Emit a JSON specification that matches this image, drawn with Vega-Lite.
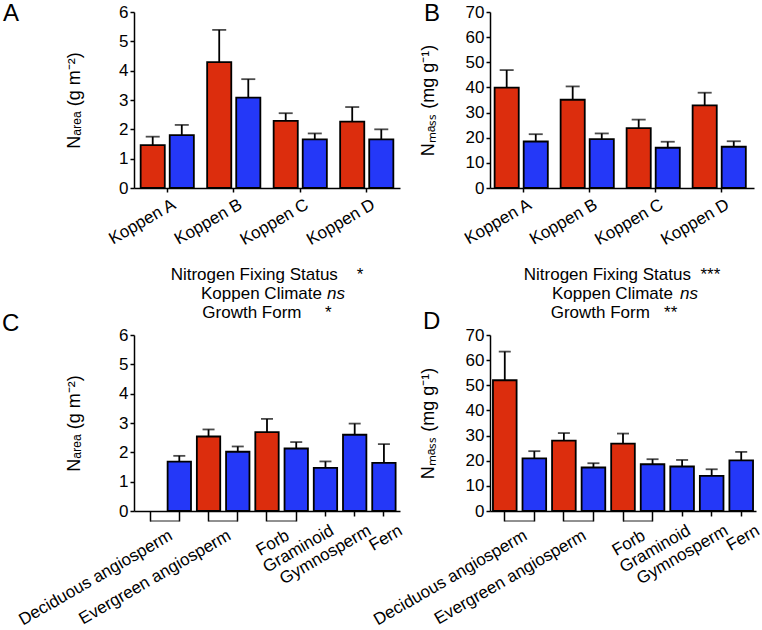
{
  "$schema": "https://vega.github.io/schema/vega-lite/v6.json",
  "background": "white",
  "padding": {"left": 2, "top": 1, "right": 0, "bottom": 0},
  "datasets": {
    "narea_koppen": [
      {"zone": "Koppen A", "status": "N-fixer", "mean": 1.46, "upper": 1.75},
      {"zone": "Koppen A", "status": "Non-fixer", "mean": 1.80, "upper": 2.15},
      {"zone": "Koppen B", "status": "N-fixer", "mean": 4.29, "upper": 5.39},
      {"zone": "Koppen B", "status": "Non-fixer", "mean": 3.08, "upper": 3.71},
      {"zone": "Koppen C", "status": "N-fixer", "mean": 2.29, "upper": 2.55},
      {"zone": "Koppen C", "status": "Non-fixer", "mean": 1.66, "upper": 1.86},
      {"zone": "Koppen D", "status": "N-fixer", "mean": 2.26, "upper": 2.76},
      {"zone": "Koppen D", "status": "Non-fixer", "mean": 1.66, "upper": 2.00}
    ],
    "nmass_koppen": [
      {"zone": "Koppen A", "status": "N-fixer", "mean": 39.9, "upper": 46.9},
      {"zone": "Koppen A", "status": "Non-fixer", "mean": 18.5, "upper": 21.4},
      {"zone": "Koppen B", "status": "N-fixer", "mean": 35.1, "upper": 40.4},
      {"zone": "Koppen B", "status": "Non-fixer", "mean": 19.4, "upper": 21.7},
      {"zone": "Koppen C", "status": "N-fixer", "mean": 23.8, "upper": 27.2},
      {"zone": "Koppen C", "status": "Non-fixer", "mean": 16.0, "upper": 18.4},
      {"zone": "Koppen D", "status": "N-fixer", "mean": 32.9, "upper": 37.9},
      {"zone": "Koppen D", "status": "Non-fixer", "mean": 16.4, "upper": 18.6}
    ],
    "narea_form": [
      {"slot": "Deciduous angiosperm|Non-fixer", "status": "Non-fixer", "mean": 1.68, "upper": 1.88},
      {"slot": "Evergreen angiosperm|N-fixer", "status": "N-fixer", "mean": 2.54, "upper": 2.78},
      {"slot": "Evergreen angiosperm|Non-fixer", "status": "Non-fixer", "mean": 2.02, "upper": 2.20},
      {"slot": "Forb|N-fixer", "status": "N-fixer", "mean": 2.69, "upper": 3.14},
      {"slot": "Forb|Non-fixer", "status": "Non-fixer", "mean": 2.13, "upper": 2.35},
      {"slot": "Graminoid|Non-fixer", "status": "Non-fixer", "mean": 1.47, "upper": 1.69},
      {"slot": "Gymnosperm|Non-fixer", "status": "Non-fixer", "mean": 2.60, "upper": 2.98},
      {"slot": "Fern|Non-fixer", "status": "Non-fixer", "mean": 1.64, "upper": 2.28}
    ],
    "nmass_form": [
      {"slot": "Deciduous angiosperm|N-fixer", "status": "N-fixer", "mean": 52.0, "upper": 63.4},
      {"slot": "Deciduous angiosperm|Non-fixer", "status": "Non-fixer", "mean": 20.9, "upper": 23.8},
      {"slot": "Evergreen angiosperm|N-fixer", "status": "N-fixer", "mean": 28.0, "upper": 31.0},
      {"slot": "Evergreen angiosperm|Non-fixer", "status": "Non-fixer", "mean": 17.3, "upper": 19.0},
      {"slot": "Forb|N-fixer", "status": "N-fixer", "mean": 26.8, "upper": 30.8},
      {"slot": "Forb|Non-fixer", "status": "Non-fixer", "mean": 18.6, "upper": 20.6},
      {"slot": "Graminoid|Non-fixer", "status": "Non-fixer", "mean": 17.7, "upper": 20.3},
      {"slot": "Gymnosperm|Non-fixer", "status": "Non-fixer", "mean": 14.0, "upper": 16.6},
      {"slot": "Fern|Non-fixer", "status": "Non-fixer", "mean": 20.1, "upper": 23.5}
    ],
    "brackets": [
      {"from": "Deciduous angiosperm|N-fixer", "to": "Deciduous angiosperm|Non-fixer"},
      {"from": "Evergreen angiosperm|N-fixer", "to": "Evergreen angiosperm|Non-fixer"},
      {"from": "Forb|N-fixer", "to": "Forb|Non-fixer"}
    ],
    "stats_left": [
      {"line": 1, "text": "Nitrogen Fixing Status\u00a0\u00a0\u00a0\u00a0*"},
      {"line": 2, "text": "Koppen Climate", "sig": "ns"},
      {"line": 3, "text": "Growth Form\u00a0\u00a0\u00a0\u00a0\u00a0*"}
    ],
    "stats_right": [
      {"line": 1, "text": "Nitrogen Fixing Status\u00a0\u00a0***"},
      {"line": 2, "text": "Koppen Climate", "sig": "ns"},
      {"line": 3, "text": "Growth Form\u00a0\u00a0\u00a0**"}
    ]
  },
  "concat": [
    {
      "width": 266, "height": 176,
      "title": {"text": "A", "anchor": "start", "frame": "group", "dx": -131, "dy": 41.5, "offset": 0, "baseline": "alphabetic", "fontSize": 24, "fontWeight": "normal", "color": "black"},
      "data": {"name": "narea_koppen"},
      "encoding": {
        "x": {"field": "zone", "type": "nominal", "scale": {"paddingInner": 0.2, "paddingOuter": 0.1},
              "axis": {"title": null, "labelAngle": -30, "labelAlign": "right", "labelBaseline": "top", "tickSize": 4, "labelPadding": 4, "labelOffset": 3}},
        "xOffset": {"field": "status", "type": "nominal", "sort": ["N-fixer", "Non-fixer"], "scale": {"paddingInner": 0.17}}
      },
      "layer": [
        {"mark": {"type": "bar", "stroke": "black", "strokeWidth": 1.8},
         "encoding": {
           "y": {"field": "mean", "type": "quantitative", "stack": null, "scale": {"domain": [0, 6], "nice": false},
                 "axis": {"title": "N\u2090\u1d63\u2091\u2090 (g m\u207b\u00b2)", "values": [0, 1, 2, 3, 4, 5, 6], "labelOverlap": false, "tickSize": 4, "labelPadding": 2, "titlePadding": 35}},
           "color": {"field": "status", "type": "nominal", "scale": {"domain": ["N-fixer", "Non-fixer"], "range": ["#dc2d0d", "#2438f8"]}, "legend": null}
         }},
        {"mark": {"type": "rule", "strokeWidth": 1.8, "color": "black"},
         "encoding": {"y": {"field": "mean", "type": "quantitative", "axis": null}, "y2": {"field": "upper"}}},
        {"mark": {"type": "tick", "thickness": 1.8, "size": 14, "color": "black"},
         "encoding": {"y": {"field": "upper", "type": "quantitative", "axis": null}}}
      ],
      "resolve": {"axis": {"y": "independent"}}
    },
    {
      "width": 264, "height": 176,
      "title": {"text": "B", "anchor": "start", "frame": "group", "dx": -66, "dy": 41.5, "offset": 0, "baseline": "alphabetic", "fontSize": 24, "fontWeight": "normal", "color": "black"},
      "data": {"name": "nmass_koppen"},
      "encoding": {
        "x": {"field": "zone", "type": "nominal", "scale": {"paddingInner": 0.14, "paddingOuter": 0.07},
              "axis": {"title": null, "labelAngle": -30, "labelAlign": "right", "labelBaseline": "top", "tickSize": 4, "labelPadding": 4, "labelOffset": 3}},
        "xOffset": {"field": "status", "type": "nominal", "sort": ["N-fixer", "Non-fixer"], "scale": {"paddingInner": 0.07}}
      },
      "layer": [
        {"mark": {"type": "bar", "stroke": "black", "strokeWidth": 1.8},
         "encoding": {
           "y": {"field": "mean", "type": "quantitative", "stack": null, "scale": {"domain": [0, 70], "nice": false},
                 "axis": {"title": "N\u2098\u2090\u209b\u209b (mg g\u207b\u00b9)", "values": [0, 10, 20, 30, 40, 50, 60, 70], "labelOverlap": false, "tickSize": 4, "labelPadding": 2, "titlePadding": 28}},
           "color": {"field": "status", "type": "nominal", "scale": {"domain": ["N-fixer", "Non-fixer"], "range": ["#dc2d0d", "#2438f8"]}, "legend": null}
         }},
        {"mark": {"type": "rule", "strokeWidth": 1.8, "color": "black"},
         "encoding": {"y": {"field": "mean", "type": "quantitative", "axis": null}, "y2": {"field": "upper"}}},
        {"mark": {"type": "tick", "thickness": 1.8, "size": 14, "color": "black"},
         "encoding": {"y": {"field": "upper", "type": "quantitative", "axis": null}}}
      ],
      "resolve": {"axis": {"y": "independent"}}
    },
    {
      "width": 266, "height": 120,
      "data": {"name": "stats_left"},
      "encoding": {"y": {"field": "line", "type": "ordinal", "axis": null, "scale": {"range": [73.8, 111.2], "padding": 0}}},
      "layer": [
        {"transform": [{"filter": "datum.line != 2"}],
         "mark": {"type": "text", "fontSize": 17, "color": "black"},
         "encoding": {"text": {"field": "text"}}},
        {"transform": [{"filter": "datum.line == 2"}],
         "mark": {"type": "text", "fontSize": 17, "color": "black", "align": "right", "dx": 55},
         "encoding": {"text": {"field": "text"}}},
        {"transform": [{"filter": "datum.line == 2"}],
         "mark": {"type": "text", "fontSize": 17, "color": "black", "align": "left", "dx": 60, "fontStyle": "italic"},
         "encoding": {"text": {"field": "sig"}}}
      ]
    },
    {
      "width": 264, "height": 120,
      "data": {"name": "stats_right"},
      "encoding": {"y": {"field": "line", "type": "ordinal", "axis": null, "scale": {"range": [73.8, 111.2], "padding": 0}}},
      "layer": [
        {"transform": [{"filter": "datum.line == 1"}],
         "mark": {"type": "text", "fontSize": 17, "color": "black"},
         "encoding": {"text": {"field": "text"}}},
        {"transform": [{"filter": "datum.line == 3"}],
         "mark": {"type": "text", "fontSize": 17, "color": "black", "dx": -8},
         "encoding": {"text": {"field": "text"}}},
        {"transform": [{"filter": "datum.line == 2"}],
         "mark": {"type": "text", "fontSize": 17, "color": "black", "align": "right", "dx": 51},
         "encoding": {"text": {"field": "text"}}},
        {"transform": [{"filter": "datum.line == 2"}],
         "mark": {"type": "text", "fontSize": 17, "color": "black", "align": "left", "dx": 58, "fontStyle": "italic"},
         "encoding": {"text": {"field": "sig"}}}
      ]
    },
    {
      "width": 266, "height": 176,
      "title": {"text": "C", "anchor": "start", "frame": "group", "dx": -132, "dy": 28.5, "offset": 0, "baseline": "alphabetic", "fontSize": 24, "fontWeight": "normal", "color": "black"},
      "layer": [
        {"data": {"name": "narea_form"},
         "mark": {"type": "bar", "stroke": "black", "strokeWidth": 1.8},
         "encoding": {
           "x": {"field": "slot", "type": "nominal",
                 "scale": {"domain": ["Deciduous angiosperm|N-fixer", "Deciduous angiosperm|Non-fixer", "Evergreen angiosperm|N-fixer", "Evergreen angiosperm|Non-fixer", "Forb|N-fixer", "Forb|Non-fixer", "Graminoid|Non-fixer", "Gymnosperm|Non-fixer", "Fern|Non-fixer"], "paddingInner": 0.2, "paddingOuter": 0.15},
                 "axis": {"title": null, "labelAngle": -30, "labelAlign": "right", "labelBaseline": "top", "labelPadding": 6,
                          "labelExpr": "split(datum.value, '|')[1] == 'N-fixer' || indexof(['Graminoid', 'Gymnosperm', 'Fern'], split(datum.value, '|')[0]) >= 0 ? split(datum.value, '|')[0] : ''",
                          "labelOffset": {"condition": [{"test": "datum.value == 'Graminoid|Non-fixer'", "value": 3}, {"test": "datum.value == 'Gymnosperm|Non-fixer'", "value": 11}, {"test": "datum.value == 'Fern|Non-fixer'", "value": 13}], "value": 17},
                          "tickSize": {"condition": {"test": "indexof(['Graminoid', 'Gymnosperm', 'Fern'], split(datum.value, '|')[0]) >= 0", "value": 5}, "value": 10}}},
           "y": {"field": "mean", "type": "quantitative", "stack": null, "scale": {"domain": [0, 6], "nice": false},
                 "axis": {"title": "N\u2090\u1d63\u2091\u2090 (g m\u207b\u00b2)", "values": [0, 1, 2, 3, 4, 5, 6], "labelOverlap": false, "tickSize": 4, "labelPadding": 2, "titlePadding": 35}},
           "color": {"field": "status", "type": "nominal", "scale": {"domain": ["N-fixer", "Non-fixer"], "range": ["#dc2d0d", "#2438f8"]}, "legend": null}
         }},
        {"data": {"name": "narea_form"},
         "mark": {"type": "rule", "strokeWidth": 1.8, "color": "black"},
         "encoding": {"x": {"field": "slot", "type": "nominal"},
                      "y": {"field": "mean", "type": "quantitative", "axis": null}, "y2": {"field": "upper"}}},
        {"data": {"name": "narea_form"},
         "mark": {"type": "tick", "thickness": 1.8, "size": 12, "color": "black"},
         "encoding": {"x": {"field": "slot", "type": "nominal"},
                      "y": {"field": "upper", "type": "quantitative", "axis": null}}},
        {"data": {"name": "brackets"},
         "mark": {"type": "rule", "strokeWidth": 1, "color": "#222222"},
         "encoding": {"x": {"field": "from", "type": "nominal"}, "x2": {"field": "to"}, "y": {"datum": -0.341, "type": "quantitative", "axis": null}}}
      ],
      "resolve": {"axis": {"y": "independent"}}
    },
    {
      "width": 266, "height": 176,
      "title": {"text": "D", "anchor": "start", "frame": "group", "dx": -67, "dy": 26.5, "offset": 0, "baseline": "alphabetic", "fontSize": 24, "fontWeight": "normal", "color": "black"},
      "layer": [
        {"data": {"name": "nmass_form"},
         "mark": {"type": "bar", "stroke": "black", "strokeWidth": 1.8},
         "encoding": {
           "x": {"field": "slot", "type": "nominal",
                 "scale": {"domain": ["Deciduous angiosperm|N-fixer", "Deciduous angiosperm|Non-fixer", "Evergreen angiosperm|N-fixer", "Evergreen angiosperm|Non-fixer", "Forb|N-fixer", "Forb|Non-fixer", "Graminoid|Non-fixer", "Gymnosperm|Non-fixer", "Fern|Non-fixer"], "paddingInner": 0.2, "paddingOuter": 0.1},
                 "axis": {"title": null, "labelAngle": -30, "labelAlign": "right", "labelBaseline": "top", "labelPadding": 6,
                          "labelExpr": "split(datum.value, '|')[1] == 'N-fixer' || indexof(['Graminoid', 'Gymnosperm', 'Fern'], split(datum.value, '|')[0]) >= 0 ? split(datum.value, '|')[0] : ''",
                          "labelOffset": {"condition": [{"test": "datum.value == 'Graminoid|Non-fixer'", "value": 3}, {"test": "datum.value == 'Gymnosperm|Non-fixer'", "value": 11}, {"test": "datum.value == 'Fern|Non-fixer'", "value": 13}], "value": 17},
                          "tickSize": {"condition": {"test": "indexof(['Graminoid', 'Gymnosperm', 'Fern'], split(datum.value, '|')[0]) >= 0", "value": 5}, "value": 10}}},
           "y": {"field": "mean", "type": "quantitative", "stack": null, "scale": {"domain": [0, 70], "nice": false},
                 "axis": {"title": "N\u2098\u2090\u209b\u209b (mg g\u207b\u00b9)", "values": [0, 10, 20, 30, 40, 50, 60, 70], "labelOverlap": false, "tickSize": 4, "labelPadding": 2, "titlePadding": 28}},
           "color": {"field": "status", "type": "nominal", "scale": {"domain": ["N-fixer", "Non-fixer"], "range": ["#dc2d0d", "#2438f8"]}, "legend": null}
         }},
        {"data": {"name": "nmass_form"},
         "mark": {"type": "rule", "strokeWidth": 1.8, "color": "black"},
         "encoding": {"x": {"field": "slot", "type": "nominal"},
                      "y": {"field": "mean", "type": "quantitative", "axis": null}, "y2": {"field": "upper"}}},
        {"data": {"name": "nmass_form"},
         "mark": {"type": "tick", "thickness": 1.8, "size": 12, "color": "black"},
         "encoding": {"x": {"field": "slot", "type": "nominal"},
                      "y": {"field": "upper", "type": "quantitative", "axis": null}}},
        {"data": {"name": "brackets"},
         "mark": {"type": "rule", "strokeWidth": 1, "color": "#222222"},
         "encoding": {"x": {"field": "from", "type": "nominal"}, "x2": {"field": "to"}, "y": {"datum": -3.98, "type": "quantitative", "axis": null}}}
      ],
      "resolve": {"axis": {"y": "independent"}}
    }
  ],
  "columns": 2,
  "spacing": {"row": 13.5, "column": 90},
  "bounds": "flush",
  "align": "each",
  "config": {
    "font": "Liberation Sans",
    "view": {"stroke": null},
    "axis": {"grid": false, "domainColor": "black", "tickColor": "black", "domainWidth": 1.5, "tickWidth": 1.5,
             "labelColor": "black", "labelFontSize": 17, "titleFontSize": 18, "titleFontWeight": "normal", "titleColor": "black",
             "labelFont": "Liberation Sans", "titleFont": "Liberation Sans", "labelOverlap": false},
    "text": {"font": "Liberation Sans"},
    "title": {"font": "Liberation Sans"}
  }
}
